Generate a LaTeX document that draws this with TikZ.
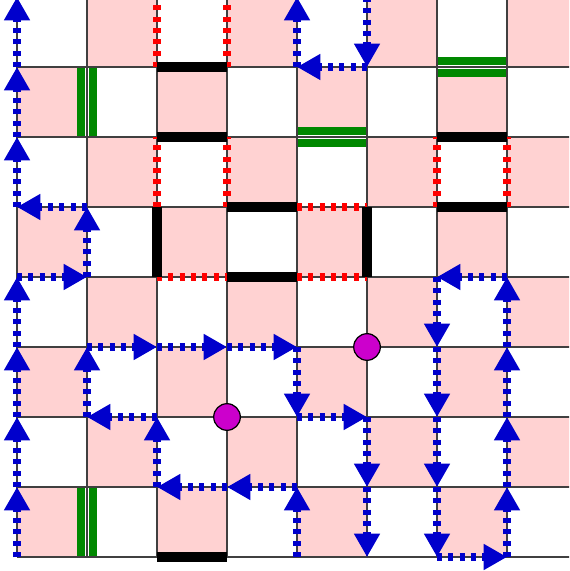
\documentclass[tikz,border=0pt]{standalone}
\usepackage{tikz}
\usetikzlibrary{arrows.meta, calc}

\definecolor{cellpink}{RGB}{255,210,210}
\definecolor{pathblue}{RGB}{0,0,204}
\definecolor{doorgreen}{RGB}{0,136,0}
\definecolor{dotmagenta}{RGB}{204,0,204}

\begin{document}
\begin{tikzpicture}[
  move/.style={pathblue, line width=3.4pt, dash pattern=on 2pt off 2.6pt, -{Triangle[length=9.5pt, width=10pt]}},
  gate/.style={red, line width=3.4pt, dash pattern=on 2pt off 2.6pt},
  wall/.style={black, line width=3.8pt},
  door/.style={doorgreen, double=white, double distance=1.3pt, line width=3.6pt},
  marker/.style={circle, draw=black, line width=0.5pt, fill=dotmagenta, minimum size=0.38cm, inner sep=0pt}
]
  \useasboundingbox (-0.243, -0.2) rectangle (7.886, 7.957);
  \clip (-0.243, -0.2) rectangle (7.886, 7.957);

  % Board
  \foreach \i in {0,...,7}
    \foreach \k in {0,...,3} {
      \pgfmathtruncatemacro\row{2*\k+mod(\i,2)}
      \fill[cellpink] (\i, \row) rectangle ++(1, 1);
    }

  % Doors
  \draw[door] (1, 6) -- (1, 7);
  \draw[door] (1, 0) -- (1, 1);
  \draw[door] (4, 6) -- (5, 6);
  \draw[door] (6, 7) -- (7, 7);

  \draw[gray!50!black, line width=0.6pt] (0, 0) grid (8, 8);

  % Gates
  \draw[gate] (2, 7) -- (2, 8);
  \draw[gate] (3, 7) -- (3, 8);
  \draw[gate] (2, 5) -- (2, 6);
  \draw[gate] (3, 5) -- (3, 6);
  \draw[gate] (6, 5) -- (6, 6);
  \draw[gate] (7, 5) -- (7, 6);
  \draw[gate] (4, 5) -- (5, 5);
  \draw[gate] (2, 4) -- (3, 4);
  \draw[gate] (4, 4) -- (5, 4);

  % Walls
  \draw[wall] (2, 7) -- (3, 7);
  \draw[wall] (2, 6) -- (3, 6);
  \draw[wall] (6, 6) -- (7, 6);
  \draw[wall] (6, 5) -- (7, 5);
  \draw[wall] (3, 5) -- (4, 5);
  \draw[wall] (3, 4) -- (4, 4);
  \draw[wall] (2, 4) -- (2, 5);
  \draw[wall] (5, 4) -- (5, 5);
  \draw[wall] (2, 0) -- (3, 0);

  % Moves, left side
  \draw[move] (0, 0) -- (0, 1);
  \draw[move] (0, 1) -- (0, 2);
  \draw[move] (0, 2) -- (0, 3);
  \draw[move] (0, 3) -- (0, 4);
  \draw[move] (0, 4) -- (1, 4);
  \draw[move] (1, 4) -- (1, 5);
  \draw[move] (1, 5) -- (0, 5);
  \draw[move] (0, 5) -- (0, 6);
  \draw[move] (0, 6) -- (0, 7);
  \draw[move] (0, 7) -- (0, 8);

  % Moves, middle
  \draw[move] (1, 2) -- (1, 3);
  \draw[move] (1, 3) -- (2, 3);
  \draw[move] (2, 3) -- (3, 3);
  \draw[move] (3, 3) -- (4, 3);
  \draw[move] (4, 3) -- (4, 2);
  \draw[move] (4, 2) -- (5, 2);
  \draw[move] (5, 2) -- (5, 1);
  \draw[move] (5, 1) -- (5, 0);
  \draw[move] (4, 0) -- (4, 1);
  \draw[move] (4, 1) -- (3, 1);
  \draw[move] (3, 1) -- (2, 1);
  \draw[move] (2, 1) -- (2, 2);
  \draw[move] (2, 2) -- (1, 2);

  % Moves, top
  \draw[move] (5, 8) -- (5, 7);
  \draw[move] (5, 7) -- (4, 7);
  \draw[move] (4, 7) -- (4, 8);

  % Moves, right side
  \draw[move] (7, 4) -- (6, 4);
  \draw[move] (6, 4) -- (6, 3);
  \draw[move] (6, 3) -- (6, 2);
  \draw[move] (6, 2) -- (6, 1);
  \draw[move] (6, 1) -- (6, 0);
  \draw[move] (6, 0) -- (7, 0);
  \draw[move] (7, 0) -- (7, 1);
  \draw[move] (7, 1) -- (7, 2);
  \draw[move] (7, 2) -- (7, 3);
  \draw[move] (7, 3) -- (7, 4);

  % Markers
  \node[marker] (mark1) at (5, 3) {};
  \node[marker] (mark2) at (3, 2) {};
\end{tikzpicture}
\end{document}
